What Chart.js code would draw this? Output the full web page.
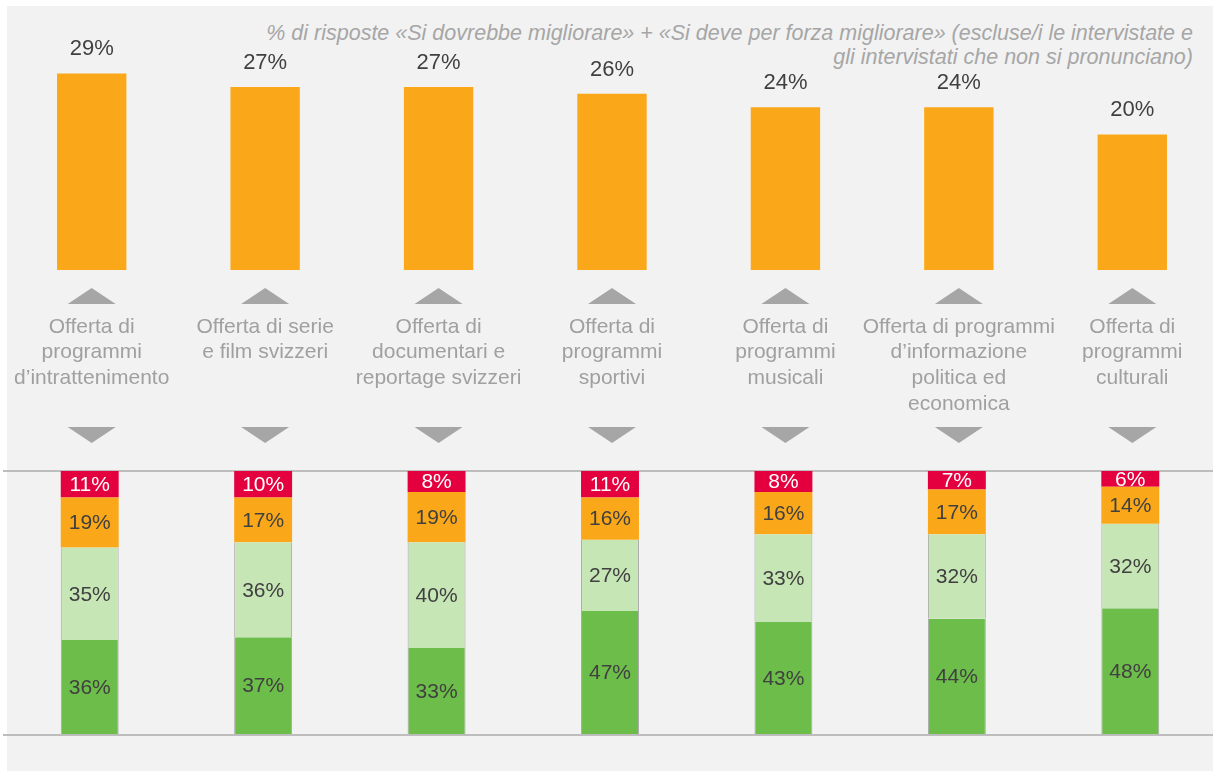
<!DOCTYPE html>
<html>
<head>
<meta charset="utf-8">
<script src="https://cdn.jsdelivr.net/npm/chart.js@4.4.1/dist/chart.umd.min.js"></script>
<style>
  body { margin: 0; background: #fff; width: 1213px; height: 771px; overflow: hidden; position: relative; font-family: "Liberation Sans", Arial, sans-serif; }
  #bg { position: absolute; left: 7px; top: 6px; right: 0; bottom: 0; background: #f2f2f2; }
  #note { position: absolute; right: 20px; top: 22px; text-align: right; font-style: italic; font-size: 21.5px; line-height: 23.5px; color: #a6a6a6; white-space: nowrap; }
  #topWrap { position: absolute; left: 5px; top: 0; width: 1214px; height: 465px; }
  #botWrap { position: absolute; left: 3px; top: 455px; width: 1214px; height: 300px; }
</style>
</head>
<body>
<div id="bg"></div>
<div id="note">% di risposte «Si dovrebbe migliorare» + «Si deve per forza migliorare» (escluse/i le intervistate e<br>gli intervistati che non si pronunciano)</div>
<div id="topWrap"><canvas id="topChart"></canvas></div>
<div id="botWrap"><canvas id="botChart"></canvas></div>
<script>
const categories = [
  ["Offerta di", "programmi", "d’intrattenimento"],
  ["Offerta di serie", "e film svizzeri"],
  ["Offerta di", "documentari e", "reportage svizzeri"],
  ["Offerta di", "programmi", "sportivi"],
  ["Offerta di", "programmi", "musicali"],
  ["Offerta di programmi", "d’informazione", "politica ed", "economica"],
  ["Offerta di", "programmi", "culturali"]
];
// top: "Si dovrebbe migliorare" + "Si deve per forza migliorare"
const improveTotal = [29, 27, 27, 26, 24, 24, 20];
// bottom stacked, from bottom to top
const veryGood = [36, 37, 33, 47, 43, 44, 48];
const fairlyGood = [35, 36, 40, 27, 33, 32, 32];
const shouldImprove = [19, 17, 19, 16, 16, 17, 14];
const mustImprove = [11, 10, 8, 11, 8, 7, 6];

const FONT = "'Liberation Sans', Arial, sans-serif";

// value labels above the top bars
const topLabels = {
  id: "topLabels",
  afterDatasetsDraw(chart) {
    const ctx = chart.ctx;
    ctx.save();
    ctx.font = "22px " + FONT;
    ctx.fillStyle = "#404040";
    ctx.textAlign = "center";
    ctx.textBaseline = "middle";
    chart.getDatasetMeta(0).data.forEach((bar, i) => {
      ctx.fillText(improveTotal[i] + "%", bar.x, bar.y - 24);
    });
    ctx.restore();
  }
};

// grey triangles above and below the category names
const arrows = {
  id: "arrows",
  afterDraw(chart) {
    const ctx = chart.ctx;
    const xs = chart.scales.x;
    const b = chart.chartArea.bottom;
    ctx.save();
    ctx.fillStyle = "#a6a6a6";
    categories.forEach((c, i) => {
      const x = xs.getPixelForValue(i);
      ctx.beginPath();
      ctx.moveTo(x - 24, b + 34);
      ctx.lineTo(x + 24, b + 34);
      ctx.lineTo(x, b + 18);
      ctx.closePath();
      ctx.fill();
      ctx.beginPath();
      ctx.moveTo(x - 24, b + 157);
      ctx.lineTo(x + 24, b + 157);
      ctx.lineTo(x, b + 173);
      ctx.closePath();
      ctx.fill();
    });
    ctx.restore();
  }
};

new Chart(document.getElementById("topChart"), {
  type: "bar",
  data: {
    labels: categories,
    datasets: [{
      data: improveTotal,
      backgroundColor: "#faa819",
      barPercentage: 0.4,
      categoryPercentage: 1
    }]
  },
  options: {
    responsive: true,
    maintainAspectRatio: false,
    animation: false,
    layout: { padding: { top: 66.6, left: 0, right: 0, bottom: 0 } },
    plugins: { legend: { display: false }, tooltip: { enabled: false } },
    scales: {
      y: { display: false, min: 0, max: 30 },
      x: {
        grid: { display: false, drawTicks: false },
        border: { display: false },
        ticks: {
          padding: 44,
          color: "#a0a0a0",
          font: { family: FONT, size: 21, lineHeight: 1.226 },
          maxRotation: 0,
          autoSkip: false
        },
        afterFit: (s) => { s.height = 195; s.paddingLeft = 0; s.paddingRight = 0; }
      }
    }
  },
  plugins: [topLabels, arrows]
});

// labels inside stacked segments
const segLabels = {
  id: "segLabels",
  afterDatasetsDraw(chart) {
    const ctx = chart.ctx;
    const top = chart.chartArea.top;
    ctx.save();
    ctx.font = "21px " + FONT;
    ctx.textAlign = "center";
    ctx.textBaseline = "middle";
    chart.data.datasets.forEach((ds, d) => {
      ctx.fillStyle = ds.labelColor;
      chart.getDatasetMeta(d).data.forEach((bar, i) => {
        const y1 = Math.max(bar.y, top);
        const y2 = Math.max(bar.base, top);
        ctx.fillText(ds.data[i] + "%", bar.x, (y1 + y2) / 2 + 1);
      });
    });
    ctx.restore();
  }
};

const seg = (label, data, color, textColor, border) => ({
  label: label,
  data: data,
  backgroundColor: color,
  borderColor: "#a8a8a8",
  borderWidth: border ? { left: 1, right: 1, top: 0, bottom: 0 } : 0,
  borderSkipped: false,
  labelColor: textColor,
  barPercentage: 0.334,
  categoryPercentage: 1,
  clip: 0
});

new Chart(document.getElementById("botChart"), {
  type: "bar",
  data: {
    labels: categories,
    datasets: [
      seg("Molto bene", veryGood, "#6dbd4a", "#404040", true),
      seg("Abbastanza bene", fairlyGood, "#c6e6b6", "#404040", true),
      seg("Si dovrebbe migliorare", shouldImprove, "#faa819", "#404040", false),
      seg("Si deve per forza migliorare", mustImprove, "#e4003f", "#ffffff", false)
    ]
  },
  options: {
    responsive: true,
    maintainAspectRatio: false,
    animation: false,
    layout: { padding: { top: 16, left: 0, right: 0, bottom: 20 } },
    plugins: { legend: { display: false }, tooltip: { enabled: false } },
    scales: {
      x: { display: false, stacked: true },
      y: {
        stacked: true,
        min: 0,
        max: 100,
        ticks: { display: false, stepSize: 100 },
        grid: { color: "#bdbdbd", lineWidth: 2, drawTicks: false },
        border: { display: false },
        afterFit: (s) => { s.width = 0; }
      }
    }
  },
  plugins: [segLabels]
});
</script>
</body>
</html>
